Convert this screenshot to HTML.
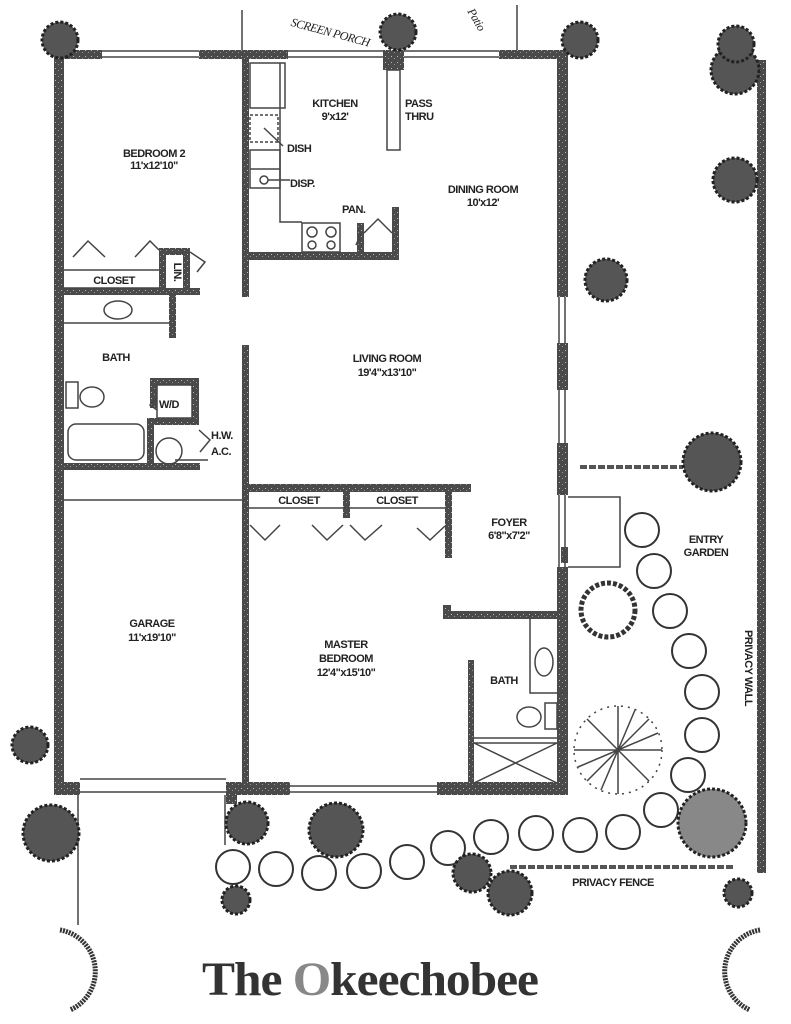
<!DOCTYPE html>
<html><head><meta charset="utf-8"><style>
html,body{margin:0;padding:0;background:#fff;}
svg{display:block}
text{font-family:"Liberation Sans",sans-serif;font-weight:bold;fill:#222;letter-spacing:-0.5px}
</style></head><body>
<svg width="791" height="1024" viewBox="0 0 791 1024" xmlns="http://www.w3.org/2000/svg">
<defs>
<pattern id="spk" width="6" height="6" patternUnits="userSpaceOnUse">
<rect width="6" height="6" fill="#4a4a4a"/><rect x="1" y="2" width="1" height="1" fill="#bbb"/><rect x="4" y="4" width="1" height="1" fill="#999"/>
</pattern>
</defs>
<g fill="url(#spk)">
<!-- top wall -->
<rect x="54" y="50" width="48" height="9"/>
<rect x="199" y="50" width="89" height="9"/>
<rect x="383" y="50" width="21" height="20"/>
<rect x="499" y="50" width="69" height="9"/>
<!-- left wall -->
<rect x="54" y="50" width="10" height="745"/>
<!-- right wall -->
<rect x="557" y="50" width="11" height="247"/>
<rect x="557" y="343" width="11" height="47"/>
<rect x="557" y="443" width="11" height="52"/>
<rect x="561" y="547" width="7" height="16"/>
<rect x="557" y="567" width="11" height="228"/>
<!-- kitchen wall -->
<rect x="242" y="50" width="7" height="247"/>
<rect x="249" y="252" width="150" height="8"/>
<rect x="392" y="207" width="7" height="53"/>
<rect x="357" y="223" width="7" height="30"/>
<!-- living wall -->
<rect x="242" y="345" width="7" height="450"/>
<!-- bed2 closet -->
<rect x="64" y="288" width="136" height="7"/>
<rect x="159" y="248" width="7" height="42"/>
<rect x="159" y="248" width="31" height="7"/>
<rect x="183" y="248" width="7" height="42"/>
<rect x="169" y="295" width="7" height="43"/>
<!-- bath lower -->
<rect x="150" y="378" width="49" height="7"/>
<rect x="150" y="378" width="7" height="30"/>
<rect x="192" y="378" width="7" height="47"/>
<rect x="147" y="418" width="52" height="7"/>
<rect x="147" y="418" width="7" height="50"/>
<rect x="64" y="463" width="136" height="7"/>
<!-- closets master -->
<rect x="249" y="484" width="222" height="8"/>
<rect x="343" y="492" width="7" height="26"/>
<rect x="445" y="492" width="7" height="66"/>
<!-- foyer bath -->
<rect x="443" y="611" width="125" height="8"/>
<rect x="443" y="605" width="8" height="8"/>
<rect x="468" y="660" width="6" height="125"/>
<!-- bottom wall -->
<rect x="54" y="782" width="26" height="13"/>
<rect x="226" y="782" width="64" height="13"/>
<rect x="226" y="782" width="11" height="22"/>
<rect x="437" y="782" width="131" height="13"/>
<!-- privacy wall -->
<rect x="757" y="60" width="9" height="813"/>
</g>
<g fill="none" stroke="#444" stroke-width="1.5">
<!-- windows -->
<path d="M102 51H199M102 57H199M288 51H383M288 57H383M404 51H499M404 57H499"/>
<path d="M559 297V343M565 297V343M559 390V443M565 390V443M559 495V567M565 495V567"/>
<path d="M80 779H226M80 792H226M290 786H437M290 792H437"/>
<!-- porch -->
<path d="M242 10V50M517 5V50"/>
<!-- kitchen -->
<rect x="250" y="63" width="35" height="45"/>
<rect x="250" y="115" width="28" height="27" stroke-dasharray="3,2"/>
<path d="M264 128L283 146"/>
<rect x="250" y="150" width="30" height="38"/><path d="M250 169H280"/>
<circle cx="264" cy="180" r="4"/><path d="M268 180H290"/>
<path d="M280 63V222H302"/>
<rect x="302" y="223" width="38" height="29"/>
<circle cx="312" cy="232" r="5"/><circle cx="331" cy="232" r="5"/><circle cx="312" cy="245" r="4"/><circle cx="331" cy="245" r="4"/>
<rect x="387" y="70" width="13" height="80"/>
<path d="M364 233L378 219L392 233M362 232L356 245"/>
<!-- bed2 closet doors -->
<path d="M64 270H159M64 288H159"/>
<path d="M73 257L88 241L105 257M135 257L150 241L159 250M190 252L205 262L197 272"/>
<ellipse cx="118" cy="310" rx="14" ry="9"/>
<path d="M64 323H169"/>
<!-- bath -->
<rect x="66" y="382" width="12" height="26"/>
<ellipse cx="92" cy="397" rx="12" ry="10"/>
<rect x="157" y="385" width="35" height="33"/>
<path d="M157 398L150 405L157 410"/>
<rect x="68" y="424" width="76" height="36" rx="8"/>
<circle cx="169" cy="451" r="13"/><path d="M175 460H208M199 430L210 440L200 452"/>
<path d="M64 500H242"/>
<!-- master closets -->
<path d="M249 508H445"/>
<path d="M250 525L265 540L280 525M312 525L327 540L343 525M350 525L365 540L382 525M417 528L430 540L445 526"/>
<!-- foyer -->
<path d="M568 497H620V567H568"/>
<!-- bath master -->
<path d="M530 619V693H568"/>
<ellipse cx="544" cy="662" rx="9" ry="14"/>
<ellipse cx="529" cy="717" rx="12" ry="10"/>
<rect x="545" y="703" width="12" height="26"/>
<path d="M474 738H557M474 743H557M474 783L557 743M474 743L557 783"/>
<!-- outside lines -->
<path d="M78 795V925M225 795V845"/>
</g>
<g stroke="#555" stroke-width="4" stroke-dasharray="7,2" fill="none">
<path d="M580 467H683"/><path d="M510 867H733"/>
</g>
<!-- stepping stones -->
<g fill="none" stroke="#333" stroke-width="2">
<circle cx="642" cy="530" r="17"/><circle cx="654" cy="571" r="17"/><circle cx="670" cy="611" r="17"/>
<circle cx="689" cy="651" r="17"/><circle cx="702" cy="692" r="17"/><circle cx="702" cy="735" r="17"/>
<circle cx="688" cy="775" r="17"/><circle cx="661" cy="810" r="17"/><circle cx="623" cy="832" r="17"/>
<circle cx="580" cy="835" r="17"/><circle cx="536" cy="833" r="17"/><circle cx="491" cy="837" r="17"/>
<circle cx="448" cy="848" r="17"/><circle cx="407" cy="862" r="17"/><circle cx="364" cy="871" r="17"/>
<circle cx="319" cy="873" r="17"/><circle cx="276" cy="869" r="17"/><circle cx="233" cy="867" r="17"/>
</g>
<!-- trees -->
<g fill="#555" stroke="#222" stroke-width="3" stroke-dasharray="3,2">
<circle cx="735" cy="70" r="24"/><circle cx="735" cy="180" r="22"/><circle cx="606" cy="280" r="21"/>
<circle cx="712" cy="462" r="29"/><circle cx="736" cy="44" r="18"/><circle cx="580" cy="40" r="18"/>
<circle cx="398" cy="32" r="18"/><circle cx="60" cy="40" r="18"/>
<circle cx="51" cy="833" r="28"/><circle cx="247" cy="823" r="21"/><circle cx="336" cy="830" r="27"/>
<circle cx="472" cy="873" r="19"/><circle cx="510" cy="893" r="22"/><circle cx="236" cy="900" r="14"/>
<circle cx="738" cy="893" r="14"/><circle cx="712" cy="823" r="34" fill="#888"/><circle cx="30" cy="745" r="18"/>
</g>
<circle cx="608" cy="610" r="27" fill="none" stroke="#333" stroke-width="5" stroke-dasharray="4,2"/>
<g stroke="#444" stroke-width="1.5" fill="none">
<circle cx="618" cy="750" r="44" stroke-dasharray="2,5"/>
<path d="M618 750L618 706M618 750L662 750M618 750L618 794M618 750L574 750M618 750L649 719M618 750L587 781M618 750L649 781M618 750L587 719M618 750L635 710M618 750L601 790M618 750L658 733M618 750L578 767"/>
</g>
<g fill="none" stroke="#333" stroke-width="5" stroke-dasharray="2,1">
<path d="M60 930A42 42 0 0 1 70 1010"/>
<path d="M760 930A42 42 0 0 0 750 1010"/>
</g>
<!-- labels -->
<g font-size="11">
<text x="154" y="157" text-anchor="middle">BEDROOM 2</text>
<text x="154" y="169" text-anchor="middle">11'x12'10"</text>
<text x="335" y="107" text-anchor="middle">KITCHEN</text>
<text x="335" y="120" text-anchor="middle">9'x12'</text>
<text x="405" y="107">PASS</text><text x="405" y="120">THRU</text>
<text x="287" y="152">DISH</text><text x="290" y="187">DISP.</text>
<text x="342" y="213">PAN.</text>
<text x="483" y="193" text-anchor="middle">DINING ROOM</text>
<text x="483" y="206" text-anchor="middle">10'x12'</text>
<text x="114" y="284" text-anchor="middle">CLOSET</text>
<text x="178" y="268" text-anchor="middle" transform="rotate(90 174 268)">LIN.</text>
<text x="116" y="361" text-anchor="middle">BATH</text>
<text x="387" y="362" text-anchor="middle">LIVING ROOM</text>
<text x="387" y="376" text-anchor="middle">19'4"x13'10"</text>
<text x="169" y="408" text-anchor="middle">W/D</text>
<text x="211" y="439">H.W.</text><text x="211" y="455">A.C.</text>
<text x="299" y="504" text-anchor="middle">CLOSET</text>
<text x="397" y="504" text-anchor="middle">CLOSET</text>
<text x="509" y="526" text-anchor="middle">FOYER</text>
<text x="509" y="539" text-anchor="middle">6'8"x7'2"</text>
<text x="152" y="627" text-anchor="middle">GARAGE</text>
<text x="152" y="641" text-anchor="middle">11'x19'10"</text>
<text x="346" y="648" text-anchor="middle">MASTER</text>
<text x="346" y="662" text-anchor="middle">BEDROOM</text>
<text x="346" y="676" text-anchor="middle">12'4"x15'10"</text>
<text x="504" y="684" text-anchor="middle">BATH</text>
<text x="706" y="543" text-anchor="middle">ENTRY</text>
<text x="706" y="556" text-anchor="middle">GARDEN</text>
<text x="741" y="672" text-anchor="middle" transform="rotate(90 745 672)">PRIVACY WALL</text>
<text x="613" y="886" text-anchor="middle">PRIVACY FENCE</text>
</g>
<text x="292" y="28" font-size="12" font-weight="normal" style="font-family:'Liberation Serif',serif;font-weight:normal;font-style:italic" transform="rotate(15 300 20)">SCREEN PORCH</text>
<text x="465" y="25" font-size="12" style="font-family:'Liberation Serif',serif;font-weight:normal;font-style:italic" transform="rotate(60 478 20)">Patio</text>
<text x="202" y="995" font-size="48" style="font-family:'Liberation Serif',serif;font-weight:bold;letter-spacing:-1px;fill:#333" textLength="336" lengthAdjust="spacingAndGlyphs">The <tspan fill="#888">O</tspan>keechobee</text>
</svg>
</body></html>
